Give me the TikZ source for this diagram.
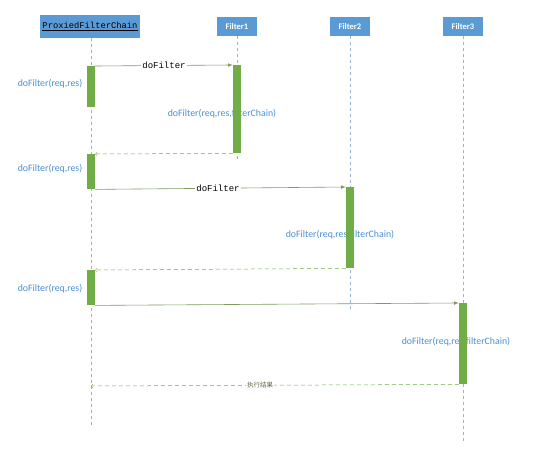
\documentclass[tikz,border=0pt]{standalone}
\usepackage{fontspec}
\setmainfont{Carlito}
\newfontfamily\codefont{Liberation Mono}
\newfontfamily\cjk{Noto Sans CJK SC}
\usetikzlibrary{arrows}

\definecolor{boxblue}{HTML}{5B9BD5}
\definecolor{bargreen}{HTML}{70AD47}
\definecolor{msggreen}{HTML}{7E9B62}
\definecolor{lifegray}{HTML}{9CB2CB}
\definecolor{labelblue}{HTML}{4A8FD3}

\tikzset{
	actor/.style={fill=boxblue, text=white, font=\bfseries\fontsize{8.5}{9}\selectfont,
		minimum width=40pt, minimum height=19pt, inner sep=0pt},
	lifeline/.style={draw=lifegray, dash pattern=on 3pt off 3pt, line width=0.6pt},
	actbar/.style={fill=bargreen, minimum width=8pt, inner sep=0pt, anchor=north},
	callmsg/.style={draw=msggreen, -latex, line width=0.6pt},
	replymsg/.style={draw=bargreen, dash pattern=on 4pt off 3pt, -to, line width=0.5pt},
	calltext/.style={fill=white, font=\codefont\fontsize{9}{10}\selectfont, inner sep=1pt},
	note/.style={text=labelblue, font=\fontsize{9.8}{11}\selectfont, inner sep=0pt}
}

\begin{document}
\begin{tikzpicture}[x=1pt,y=-1pt]
	\useasboundingbox (0,0) rectangle (554,449);
	% participants
	\node[actor, minimum width=100pt, minimum height=23pt, text=black,
		font=\codefont\fontsize{8.8}{10}\selectfont] (pfc) at (90,26.5) {\underline{ProxiedFilterChain}};
	\node[actor] (f1) at (237,26.5) {Filter1};
	\node[actor] (f2) at (350,26.5) {Filter2};
	\node[actor] (f3) at (463,26.5) {Filter3};
	% lifelines
	\coordinate (pfcend) at (91,425);
	\coordinate (f1end) at (237,162);
	\coordinate (f2end) at (350,310);
	\coordinate (f3end) at (463,443);
	\draw[lifeline] (pfc.south -| pfcend) -- (pfcend);
	\draw[lifeline] (f1.south) -- (f1end);
	\draw[lifeline] (f2.south) -- (f2end);
	\draw[lifeline] (f3.south) -- (f3end);
	% labels
	\node[note] (n1) at (50,84) {doFilter(req,res)};
	\node[note] (n2) at (50,169) {doFilter(req,res)};
	\node[note] (n3) at (50,289) {doFilter(req,res)};
	\node[note] (c1) at (222,114) {doFilter(req,res,filterChain)};
	\node[note] (c2) at (340,235) {doFilter(req,res,filterChain)};
	\node[note] (c3) at (456,342) {doFilter(req,res,filterChain)};
	% activations
	\node[actbar, minimum height=41pt] (pa1) at (91,66) {};
	\node[actbar, minimum height=88pt] (b1) at (237,65) {};
	\node[actbar, minimum height=35pt] (pa2) at (91,154) {};
	\node[actbar, minimum height=81pt] (b2) at (350,187) {};
	\node[actbar, minimum height=35pt] (pa3) at (91,270) {};
	\node[actbar, minimum height=81pt] (b3) at (463,303) {};
	\coordinate (back) at (91,386);
	% messages
	\draw[callmsg] (pa1.north east) -- node[calltext] {doFilter} (b1.north west);
	\draw[replymsg] (b1.south west) -- (pa2.north east);
	\draw[callmsg] (pa2.south east) -- node[calltext, pos=0.49] {doFilter} (b2.north west);
	\draw[replymsg] (b2.south west) -- (pa3.north east);
	\draw[callmsg] (pa3.south east) -- (b3.north west);
	\draw[replymsg] (b3.south west) -- node[pos=0.54, fill=white, inner sep=1pt, text=msggreen!70!black,
		font=\cjk\fontsize{6.5}{7}\selectfont] {执行结果} (back);
\end{tikzpicture}
\end{document}
